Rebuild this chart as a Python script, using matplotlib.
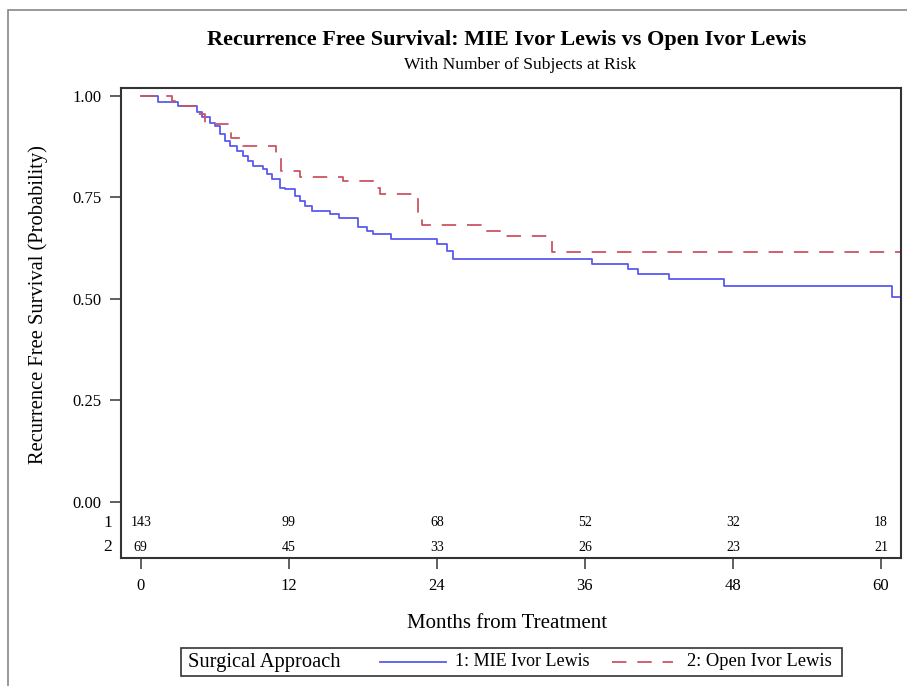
import numpy as np
import matplotlib
matplotlib.use("Agg")
import matplotlib.pyplot as plt
from matplotlib.lines import Line2D
from matplotlib.patches import Rectangle
import matplotlib.transforms as mtransforms

plt.rcParams['font.family'] = ['Liberation Serif', 'DejaVu Serif']

# Kaplan-Meier step curves (months, survival probability)
months_mie = [0, 1.4, 3.0, 4.6, 5.0, 5.6, 6.0, 6.4, 6.8, 7.2, 7.8, 8.3, 8.7, 9.1, 9.9,
              10.2, 10.6, 11.3, 11.7, 12.5, 12.9, 13.3, 13.9, 15.3, 16.1, 17.6, 18.3,
              18.8, 20.3, 24.0, 24.8, 25.3, 36.6, 39.5, 40.3, 42.8, 47.3, 60.9, 61.6]
surv_mie = [1.0, 0.984, 0.975, 0.959, 0.947, 0.934, 0.926, 0.906, 0.889, 0.877, 0.865,
            0.852, 0.840, 0.828, 0.820, 0.808, 0.796, 0.774, 0.770, 0.754, 0.741, 0.729,
            0.717, 0.709, 0.700, 0.676, 0.667, 0.659, 0.647, 0.636, 0.618, 0.598, 0.585,
            0.573, 0.561, 0.549, 0.532, 0.505, 0.505]

months_open = [0, 2.5, 3.0, 4.65, 5.2, 7.35, 8.3, 11.0, 11.4, 12.9, 16.4, 19.0, 19.4,
               22.5, 22.8, 27.6, 29.1, 33.3, 61.6]
surv_open = [1.0, 0.986, 0.975, 0.955, 0.930, 0.897, 0.877, 0.852, 0.815, 0.799, 0.791,
             0.774, 0.758, 0.696, 0.682, 0.666, 0.655, 0.614, 0.614]

# number at risk table
risk_months = [0, 12, 24, 36, 48, 60]
risk_mie = [143, 99, 68, 52, 32, 18]
risk_open = [69, 45, 33, 26, 23, 21]

labels = ['1: MIE Ivor Lewis', '2: Open Ivor Lewis']
blue = '#5a5af0'
red = '#cc5464'

fig = plt.figure(figsize=(9.07, 6.86), dpi=100)
ax = fig.add_axes([121 / 907, 1 - 558.3 / 686, 780 / 907, (558.3 - 88) / 686])

ax.step(months_mie, surv_mie, where='post', color=blue, lw=1.3)
ln_open, = ax.step(months_open, surv_open, where='post', color=red, lw=1.3)
ln_open.set_dashes((8, 6))

ax.set_xlim(-1.6, 61.62)
ax.set_ylim(-0.139, 1.019)
ax.set_yticks([0, 0.25, 0.5, 0.75, 1.0])
ax.set_yticklabels(['0.00', '0.25', '0.50', '0.75', '1.00'])
ax.set_xticks(risk_months)
ax.tick_params(axis='both', labelsize=12, length=8, width=1.2, color='#444444', pad=6)
for s in ax.spines.values():
    s.set_linewidth(1.5)
    s.set_color('#333333')

# at-risk rows
row_y = [-0.052, -0.112]
trans = mtransforms.blended_transform_factory(ax.transAxes, ax.transData)
for row, counts, name in zip(row_y, [risk_mie, risk_open], ['1', '2']):
    ax.text(-0.011, row, name, transform=trans, ha='right', va='center', fontsize=12.5)
    for m, c in zip(risk_months, counts):
        ax.text(m, row, str(c), ha='center', va='center', fontsize=10)

ax.set_xlabel('Months from Treatment', fontsize=15)
ax.xaxis.set_label_coords(0.495, -0.118)
ax.set_ylabel('Recurrence Free Survival (Probability)', fontsize=14.8)
ax.yaxis.set_label_coords(-0.093, 0.539)

fig.text(507 / 907, 1 - 40 / 686, 'Recurrence Free Survival: MIE Ivor Lewis vs Open Ivor Lewis',
         ha='center', va='center', fontsize=16, fontweight='bold')
fig.text(520 / 907, 1 - 65 / 686, 'With Number of Subjects at Risk',
         ha='center', va='center', fontsize=12.6)

# outer frame
fig.add_artist(Rectangle((8 / 907, -0.02), 1.0, 1 - 10 / 686 + 0.02, transform=fig.transFigure,
                         fill=False, edgecolor='#888888', lw=1.2))

# legend box
fig.add_artist(Rectangle((180.7 / 907, 1 - 676 / 686), 661 / 907, 27.7 / 686,
                         transform=fig.transFigure, fill=False, edgecolor='#333333', lw=1.2))
ly = 1 - 662 / 686
fig.text(188 / 907, ly, 'Surgical Approach', ha='left', va='center', fontsize=14.8)
fig.add_artist(Line2D([380 / 907, 446 / 907], [ly, ly], transform=fig.transFigure,
                      color=blue, lw=1.3))
fig.text(455 / 907, ly, labels[0], ha='left', va='center', fontsize=13)
leg_red = Line2D([612 / 907, 673 / 907], [ly, ly], transform=fig.transFigure, color=red, lw=1.3)
leg_red.set_dashes((8, 6))
fig.add_artist(leg_red)
fig.text(687 / 907, ly, labels[1], ha='left', va='center', fontsize=13.3)

fig.savefig('out.png', dpi=100)
